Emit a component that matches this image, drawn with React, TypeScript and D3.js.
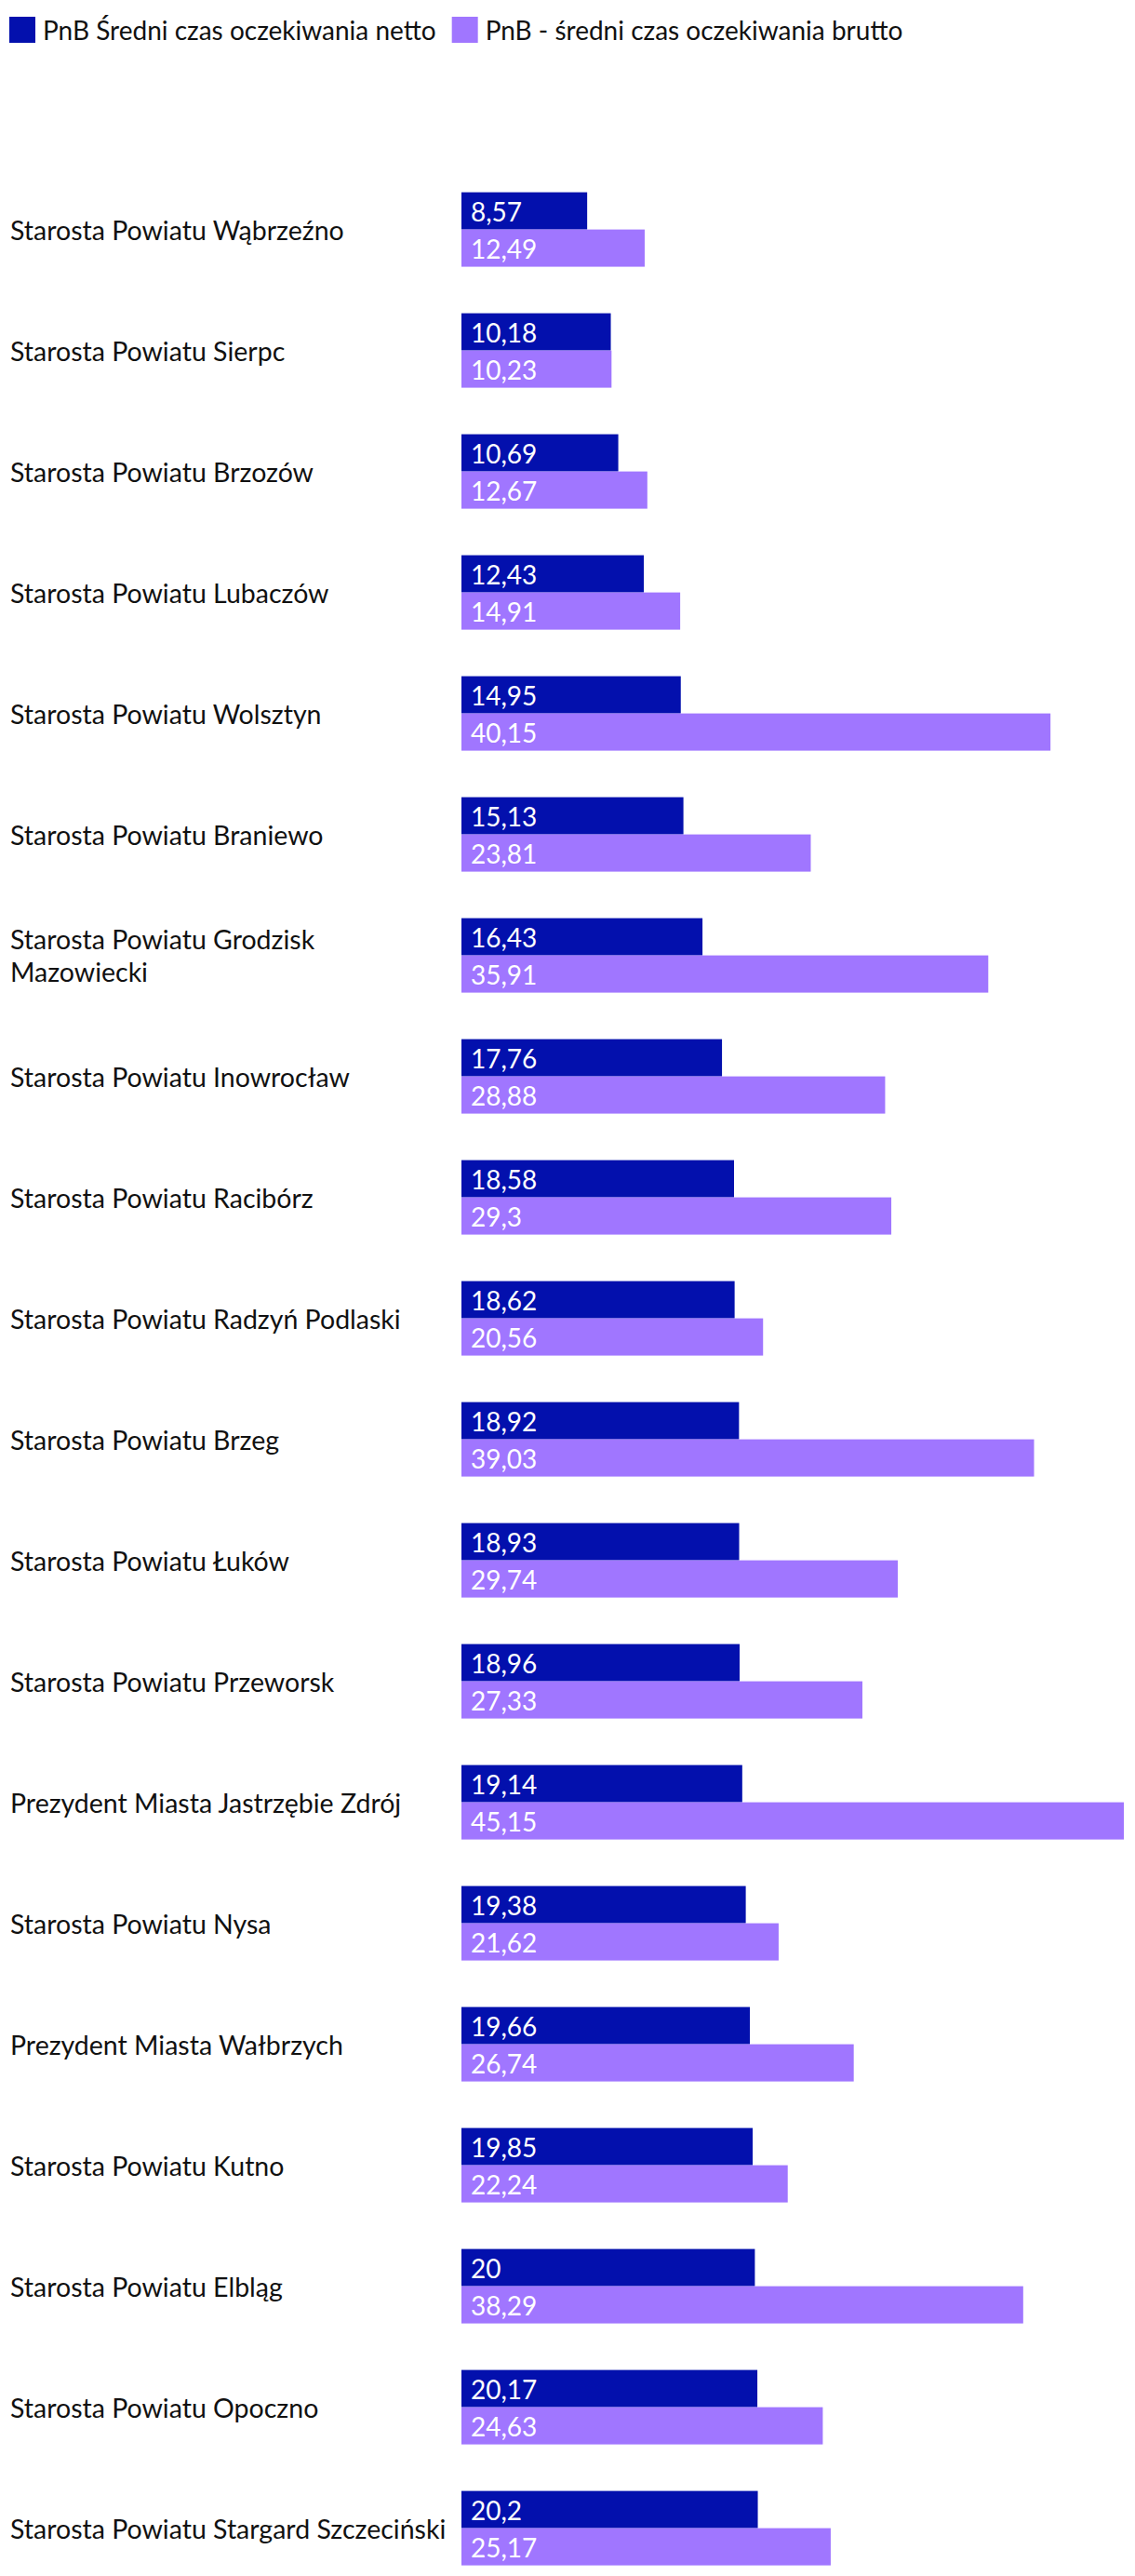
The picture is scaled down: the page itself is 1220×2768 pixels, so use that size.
import React, { useEffect, useRef } from "react";
import * as d3 from "d3";

const categories: string[] = [
  "Starosta Powiatu Wąbrzeźno",
  "Starosta Powiatu Sierpc",
  "Starosta Powiatu Brzozów",
  "Starosta Powiatu Lubaczów",
  "Starosta Powiatu Wolsztyn",
  "Starosta Powiatu Braniewo",
  "Starosta Powiatu Grodzisk Mazowiecki",
  "Starosta Powiatu Inowrocław",
  "Starosta Powiatu Racibórz",
  "Starosta Powiatu Radzyń Podlaski",
  "Starosta Powiatu Brzeg",
  "Starosta Powiatu Łuków",
  "Starosta Powiatu Przeworsk",
  "Prezydent Miasta Jastrzębie Zdrój",
  "Starosta Powiatu Nysa",
  "Prezydent Miasta Wałbrzych",
  "Starosta Powiatu Kutno",
  "Starosta Powiatu Elbląg",
  "Starosta Powiatu Opoczno",
  "Starosta Powiatu Stargard Szczeciński",
];

const netto: number[] = [
  8.57, 10.18, 10.69, 12.43, 14.95, 15.13, 16.43, 17.76, 18.58, 18.62,
  18.92, 18.93, 18.96, 19.14, 19.38, 19.66, 19.85, 20, 20.17, 20.2,
];

const brutto: number[] = [
  12.49, 10.23, 12.67, 14.91, 40.15, 23.81, 35.91, 28.88, 29.3, 20.56,
  39.03, 29.74, 27.33, 45.15, 21.62, 26.74, 22.24, 38.29, 24.63, 25.17,
];

const seriesNames: string[] = [
  "PnB Średni czas oczekiwania netto",
  "PnB - średni czas oczekiwania brutto",
];

const seriesColors: string[] = ["#0310AD", "#A076FF"];

const W = 1220;
const H = 2768;
const FONT = "Lato, 'Noto Sans', sans-serif";
const FS = 28;
const FS_LABEL = 28.5;

export default function App() {
  const ref = useRef<SVGSVGElement | null>(null);

  useEffect(() => {
    const svg = d3.select(ref.current);
    svg.selectAll("*").remove();

    const series = [netto, brutto];
    const allMax = d3.max(brutto.concat(netto)) as number;

    const x = d3.scaleLinear().domain([0, allMax]).range([496, 1208]);
    const pIn = 50 / 130;
    const y = d3
      .scaleBand<string>()
      .domain(categories)
      .range([181.6, 181.6 + 130 * categories.length])
      .paddingInner(pIn)
      .paddingOuter(pIn / 2);
    const sub = d3
      .scaleBand<number>()
      .domain([0, 1])
      .range([0, y.bandwidth()])
      .padding(0);

    // legend
    const legend = svg.append("g");
    let lx = 10;
    seriesNames.forEach((name, i) => {
      legend
        .append("rect")
        .attr("x", lx)
        .attr("y", 18)
        .attr("width", 28)
        .attr("height", 28)
        .attr("fill", seriesColors[i]);
      const t = legend
        .append("text")
        .attr("x", lx + 36)
        .attr("y", 32)
        .attr("dominant-baseline", "central")
        .attr("font-family", FONT)
        .attr("font-size", FS)
        .attr("fill", "#111")
        .text(name);
      const w = (t.node() as SVGTextElement).getComputedTextLength();
      lx = lx + 36 + w + 17;
    });

    // category labels
    const maxLabelW = 475;
    const lineH = 34.7;
    categories.forEach((c) => {
      const cy = (y(c) as number) + y.bandwidth() / 2;
      const t = svg
        .append("text")
        .attr("font-family", FONT)
        .attr("font-size", FS_LABEL)
        .attr("fill", "#111")
        .attr("x", 11);
      const words = c.split(" ");
      const lines: string[] = [];
      let cur = "";
      const probe = t.append("tspan");
      words.forEach((wd) => {
        const test = cur ? cur + " " + wd : wd;
        probe.text(test);
        const len = (probe.node() as SVGTSpanElement).getComputedTextLength();
        if (len > maxLabelW && cur) {
          lines.push(cur);
          cur = wd;
        } else {
          cur = test;
        }
      });
      lines.push(cur);
      probe.remove();
      const startY = cy - ((lines.length - 1) * lineH) / 2;
      lines.forEach((ln, k) => {
        t.append("tspan")
          .attr("x", 11)
          .attr("y", startY + k * lineH)
          .attr("dominant-baseline", "central")
          .text(ln);
      });
    });

    // bars
    series.forEach((vals, si) => {
      const g = svg.append("g");
      g.selectAll("rect")
        .data(vals)
        .join("rect")
        .attr("x", x(0))
        .attr("y", (_d, i) => (y(categories[i]) as number) + (sub(si) as number))
        .attr("width", (d) => x(d) - x(0))
        .attr("height", sub.bandwidth())
        .attr("fill", seriesColors[si]);
      g.selectAll("text")
        .data(vals)
        .join("text")
        .attr("x", x(0) + 10)
        .attr(
          "y",
          (_d, i) =>
            (y(categories[i]) as number) + (sub(si) as number) + sub.bandwidth() / 2
        )
        .attr("dominant-baseline", "central")
        .attr("font-family", FONT)
        .attr("font-size", FS)
        .attr("fill", "#ffffff")
        .text((d) => String(d).replace(".", ","));
    });
  }, []);

  return (
    <svg
      ref={ref}
      width={W}
      height={H}
      style={{ position: "absolute", left: 0, top: 0, background: "#fff" }}
    />
  );
}
